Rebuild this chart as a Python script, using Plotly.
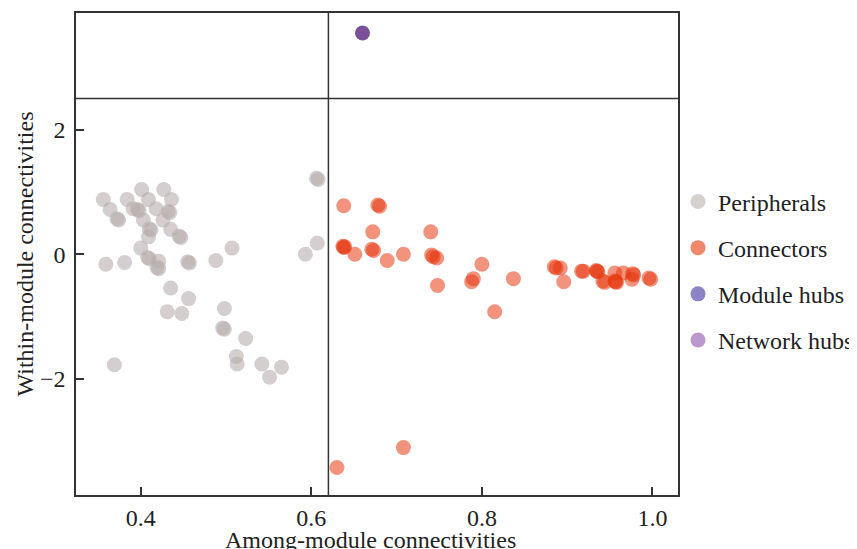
import plotly.graph_objects as go

# ---- data ----
peripheral_x = [0.356, 0.364, 0.372, 0.374, 0.384, 0.401, 0.427, 0.409, 0.436, 0.396, 0.398, 0.391,
                0.418, 0.432, 0.434, 0.403, 0.426, 0.410, 0.412, 0.409, 0.435, 0.445, 0.447, 0.400,
                0.359, 0.381, 0.408, 0.410, 0.421, 0.419, 0.421, 0.455, 0.457, 0.488, 0.507, 0.435,
                0.456, 0.431, 0.448, 0.498, 0.496, 0.498, 0.523, 0.512, 0.513, 0.542, 0.551, 0.565,
                0.369, 0.606, 0.608, 0.593, 0.607]
peripheral_y = [0.88, 0.72, 0.57, 0.55, 0.88, 1.04, 1.04, 0.88, 0.88, 0.72, 0.70, 0.73,
                0.73, 0.69, 0.67, 0.55, 0.55, 0.41, 0.39, 0.28, 0.40, 0.29, 0.27, 0.10,
                -0.16, -0.13, -0.05, -0.07, -0.11, -0.21, -0.23, -0.12, -0.14, -0.10, 0.10, -0.54,
                -0.71, -0.92, -0.95, -0.87, -1.18, -1.20, -1.35, -1.64, -1.76, -1.76, -1.97, -1.81,
                -1.77, 1.22, 1.20, 0.00, 0.18]

connector_x = [0.638, 0.678, 0.680, 0.672, 0.740, 0.637, 0.638, 0.639, 0.651, 0.671, 0.673, 0.689,
               0.708, 0.741, 0.747, 0.743, 0.748, 0.800, 0.790, 0.788, 0.837, 0.815, 0.885, 0.887,
               0.892, 0.896, 0.917, 0.919, 0.934, 0.936, 0.935, 0.942, 0.944, 0.956, 0.966, 0.956,
               0.958, 0.957, 0.977, 0.978, 0.976, 0.996, 0.998, 0.630, 0.708]
connector_y = [0.78, 0.79, 0.77, 0.36, 0.36, 0.13, 0.11, 0.12, 0.00, 0.08, 0.06, -0.10,
               0.00, -0.01, -0.06, -0.04, -0.50, -0.16, -0.39, -0.44, -0.39, -0.92, -0.20, -0.22,
               -0.22, -0.44, -0.27, -0.27, -0.26, -0.28, -0.27, -0.43, -0.45, -0.30, -0.30, -0.43,
               -0.45, -0.44, -0.31, -0.33, -0.40, -0.38, -0.40, -3.42, -3.10]

module_hub_x = []
module_hub_y = []

network_hub_x = [0.66]
network_hub_y = [3.55]

categories = ["Peripherals", "Connectors", "Module hubs", "Network hubs"]

x_threshold = 0.62
y_threshold = 2.5

x_ticks = [0.4, 0.6, 0.8, 1.0]
y_ticks = [-2, 0, 2]

x_title = "Among-module connectivities"
y_title = "Within-module connectivities"

# ---- styles ----
point_colors = ["rgba(183,173,173,0.6)", "rgba(230,55,15,0.54)",
                "rgba(120,110,185,0.85)", "rgba(122,80,152,1)"]
legend_colors = ["rgb(214,208,206)", "rgb(240,134,106)",
                 "rgb(140,132,196)", "rgb(186,152,206)"]

series = [(peripheral_x, peripheral_y), (connector_x, connector_y),
          (module_hub_x, module_hub_y), (network_hub_x, network_hub_y)]

FONT = "Liberation Serif, Times New Roman, serif"

fig = go.Figure()
for (xs, ys), name, col in zip(series, categories, point_colors):
    fig.add_trace(go.Scatter(x=xs, y=ys, mode="markers", name=name, showlegend=False,
                             legendgroup=name,
                             marker=dict(size=15, color=col, line=dict(width=0))))
for name, col in zip(categories, legend_colors):
    fig.add_trace(go.Scatter(x=[None], y=[None], mode="markers", name=name,
                             legendgroup=name,
                             marker=dict(size=15, color=col, line=dict(width=0))))

line_style = dict(color="#333333", width=1.5)
fig.add_shape(type="line", xref="x", yref="paper", x0=x_threshold, x1=x_threshold,
              y0=0, y1=1, line=line_style)
fig.add_shape(type="line", xref="paper", yref="y", x0=0, x1=1,
              y0=y_threshold, y1=y_threshold, line=line_style)

fig.add_annotation(text=x_title, xref="paper", yref="paper", x=0.49, y=-0.0934,
                   xanchor="center", yanchor="middle", showarrow=False,
                   font=dict(family=FONT, size=24, color="#222222"))

fig.update_layout(
    width=849, height=541,
    margin=dict(l=68, r=179, t=5, b=54, autoexpand=False),
    paper_bgcolor="white", plot_bgcolor="white",
    font=dict(family=FONT, size=24, color="#222222"),
    legend=dict(x=1.0, y=0.465, xanchor="left", yanchor="middle",
                traceorder="grouped", tracegroupgap=12, bgcolor="rgba(0,0,0,0)",
                font=dict(family=FONT, size=24, color="#222222"),
                itemwidth=30),
    xaxis=dict(range=[0.324, 1.03], tickvals=x_ticks, tickformat=".1f",
               ticks="inside", ticklen=8, tickwidth=1.5, tickcolor="#333333",
               showline=True, linecolor="#333333", linewidth=1.5, mirror=True,
               showgrid=False, zeroline=False, ticklabelstandoff=0, automargin=False),
    yaxis=dict(range=[-3.86, 3.87], tickvals=y_ticks,
               ticks="inside", ticklen=8, tickwidth=1.5, tickcolor="#333333",
               showline=True, linecolor="#333333", linewidth=1.5, mirror=True,
               showgrid=False, zeroline=False, ticklabelstandoff=4, automargin=False,
               title=dict(text=y_title, standoff=0,
                          font=dict(family=FONT, size=24))),
)

fig.write_html("out.html")
